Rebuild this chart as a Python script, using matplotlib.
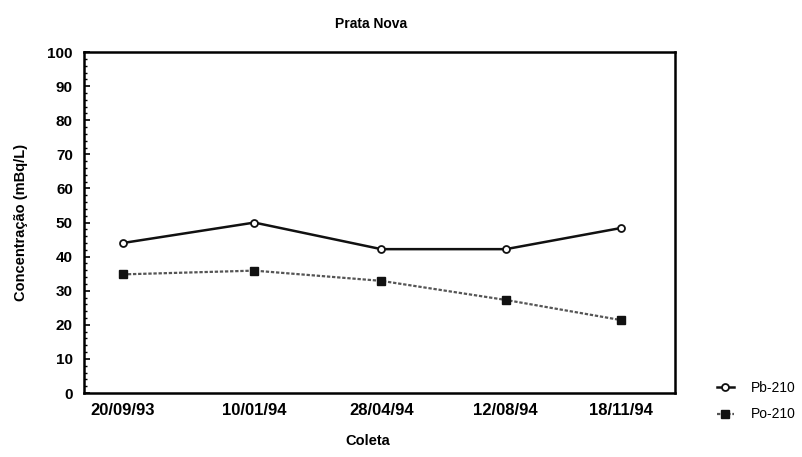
import matplotlib.pyplot as plt
import numpy as np
from matplotlib.ticker import MultipleLocator

plt.rcParams['font.family'] = ['Liberation Sans', 'DejaVu Sans']

coletas = ["20/09/93", "10/01/94", "28/04/94", "12/08/94", "18/11/94"]
datas = ["1993-09-20", "1994-01-10", "1994-04-28", "1994-08-12", "1994-11-18"]
pb210 = [44.0, 50.0, 42.2, 42.2, 48.4]
po210 = [34.8, 35.9, 32.9, 27.3, 21.4]

# days since first sample
d = np.array(datas, dtype='datetime64[D]')
x = (d - d[0]).astype(int)

fig = plt.figure(figsize=(8.03, 4.57), dpi=100)
ax = fig.add_axes([0.1046, 0.140, 0.736, 0.746])

ax.plot(x, pb210, color='#111111', lw=1.8, marker='o', ms=5,
        mfc='white', mec='#111111', mew=1.3, label='Pb-210')
ax.plot(x, po210, color='#555555', lw=1.6, ls=(0, (1.5, 0.8)), marker='s', ms=6,
        mfc='#111111', mec='#111111', label='Po-210')

ax.set_xlim(-33, 470)
ax.set_ylim(0, 100)
ax.set_xticks(x)
ax.set_xticklabels(coletas, fontsize=12, fontweight='bold')
ax.yaxis.set_major_locator(MultipleLocator(10))
ax.yaxis.set_minor_locator(MultipleLocator(2))
ax.tick_params(axis='y', which='major', direction='in', length=4, labelsize=11, width=1.2, pad=8)
ax.tick_params(axis='y', which='minor', direction='in', length=2, width=1)
ax.tick_params(axis='x', length=0, pad=7)
for lab in ax.get_yticklabels():
    lab.set_fontweight('bold')
for s in ax.spines.values():
    s.set_linewidth(1.8)

ax.set_title("Prata Nova", fontsize=10, fontweight='bold', pad=17, x=0.485)
ax.set_xlabel("Coleta", fontsize=10.5, fontweight='bold')
ax.xaxis.set_label_coords(0.48, -0.12)
ax.set_ylabel("Concentração (mBq/L)", fontsize=10.5, fontweight='bold', labelpad=14)

ax.legend(loc='lower left', bbox_to_anchor=(1.05, -0.12), frameon=False,
          fontsize=10, handlelength=1.2, handletextpad=1.2, labelspacing=0.9)

fig.savefig("out.png", dpi=100)
